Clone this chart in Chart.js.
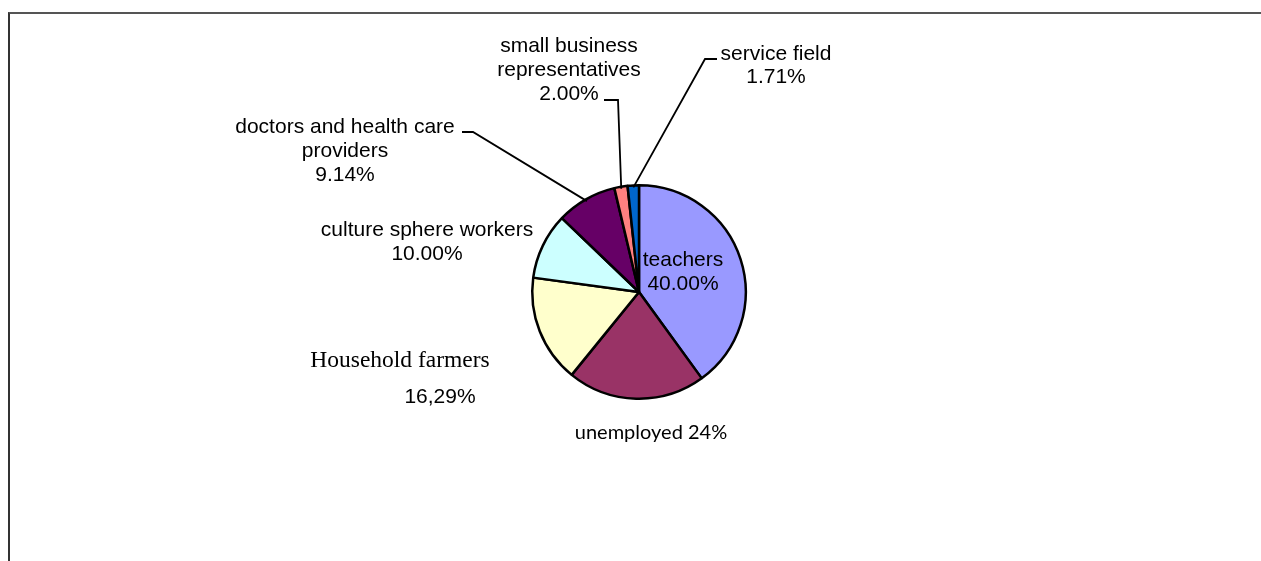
<!DOCTYPE html>
<html>
<head>
<meta charset="utf-8">
<script src="https://cdn.jsdelivr.net/npm/chart.js@4"></script>
<style>
  html, body { margin: 0; padding: 0; background: #fff; }
  #wrap { position: relative; width: 1261px; height: 561px; overflow: hidden; }
  #frame { position: absolute; left: 8px; top: 12px; right: -4px; bottom: -4px;
           border-top: 2px solid #555; border-left: 2px solid #333; }
  canvas { position: absolute; left: 0; top: 0; }
</style>
</head>
<body>
<div id="wrap">
  <div id="frame"></div>
  <canvas id="pie" width="1261" height="561"></canvas>
</div>
<script>
// slices, clockwise from 12 o'clock
const categories = ['teachers', 'unemployed', 'Household farmers', 'culture sphere workers',
  'doctors and health care providers', 'small business representatives', 'service field'];
const shares = [40.00, 20.86, 16.29, 10.00, 9.14, 2.00, 1.71];
const shareLabels = ['40.00%', '24%', '16,29%', '10.00%', '9.14%', '2.00%', '1.71%'];
const colors = ['#9999FF', '#993366', '#FFFFCC', '#CCFFFF', '#660066', '#FF8080', '#0066CC'];

const ARIAL = '21px "Liberation Sans", Arial, sans-serif';

// label text blocks: index -> lines, centre x, first baseline, line step
const labelLayout = [
  { i: 0, lines: ['teachers', shareLabels[0]], x: 683, y: 266, step: 24, font: ARIAL },
  { i: 1, lines: ['unemployed ' + shareLabels[1]], x: 651, y: 439, step: 0, font: '20px Lato, "Open Sans", sans-serif' },
  { i: 2, lines: ['Household farmers'], x: 400, y: 367, step: 0, font: '23.5px "Liberation Serif", "Times New Roman", serif' },
  { i: 2, lines: [shareLabels[2]], x: 440, y: 403, step: 0, font: ARIAL },
  { i: 3, lines: ['culture sphere workers', shareLabels[3]], x: 427, y: 236, step: 24, font: ARIAL },
  { i: 4, lines: ['doctors and health care', 'providers', shareLabels[4]], x: 345, y: 133, step: 24, font: ARIAL },
  { i: 5, lines: ['small business', 'representatives', shareLabels[5]], x: 569, y: 52, step: 24, font: ARIAL },
  { i: 6, lines: ['service field', shareLabels[6]], x: 776, y: 60, step: 23, font: ARIAL }
];

// leader lines: start at the text, elbow, then to the slice edge
const leaders = [
  { i: 4, from: [462, 132], elbow: [473, 132] },
  { i: 5, from: [604, 100], elbow: [618, 100] },
  { i: 6, from: [717, 59], elbow: [705, 59] }
];

const labelPlugin = {
  id: 'pieLabels',
  afterDatasetsDraw(chart) {
    const ctx = chart.ctx;
    const arcs = chart.getDatasetMeta(0).data;
    ctx.save();
    ctx.strokeStyle = '#000';
    ctx.lineWidth = 1.8;
    leaders.forEach((l) => {
      const a = arcs[l.i];
      const mid = (a.startAngle + a.endAngle) / 2;
      const r = a.outerRadius - 2;
      const ex = a.x + Math.cos(mid) * r;
      const ey = a.y + Math.sin(mid) * r;
      ctx.beginPath();
      ctx.moveTo(l.from[0], l.from[1]);
      ctx.lineTo(l.elbow[0], l.elbow[1]);
      ctx.lineTo(ex, ey);
      ctx.stroke();
    });
    ctx.fillStyle = '#000';
    ctx.textAlign = 'center';
    ctx.textBaseline = 'alphabetic';
    labelLayout.forEach((b) => {
      ctx.font = b.font;
      b.lines.forEach((t, k) => ctx.fillText(t, b.x, b.y + k * b.step));
    });
    ctx.restore();
  }
};

new Chart(document.getElementById('pie'), {
  type: 'pie',
  data: {
    labels: categories,
    datasets: [{
      data: shares,
      backgroundColor: colors,
      borderColor: '#000',
      borderWidth: 2.5
    }]
  },
  options: {
    responsive: false,
    animation: false,
    layout: { padding: { left: 531, right: 514, top: 184, bottom: 161 } },
    plugins: { legend: { display: false }, tooltip: { enabled: false } }
  },
  plugins: [labelPlugin]
});
</script>
</body>
</html>
